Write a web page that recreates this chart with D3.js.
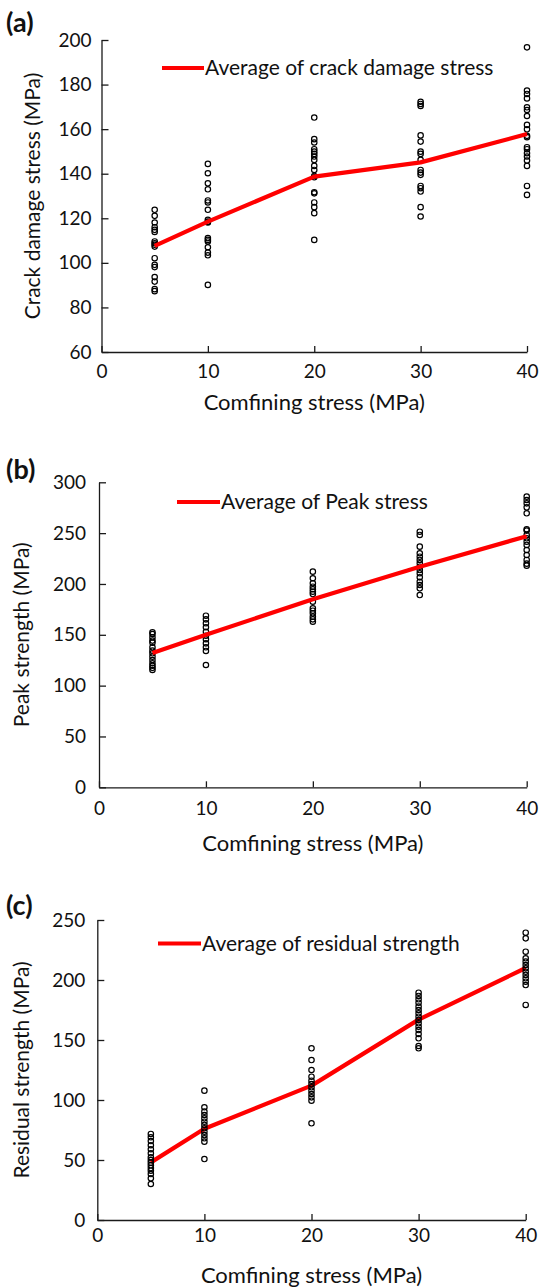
<!DOCTYPE html>
<html>
<head>
<meta charset="utf-8">
<script src="https://cdn.jsdelivr.net/npm/d3@7"></script>
<style>
  html, body { margin: 0; padding: 0; background: #fff; }
  svg { display: block; }
  text { font-family: Lato, "Open Sans", sans-serif; fill: #111; }
</style>
</head>
<body>
<svg id="chart" width="540" height="1288"></svg>
<script>
// Confining pressures of the test groups and axis ticks
const confining = [5, 10, 20, 30, 40];
const xTicks = [0, 10, 20, 30, 40];

// (a) crack damage stress, MPa: individual tests per confining level and their mean
const crackDamagePts = [
  [123.8, 121.1, 118.1, 116.0, 114.8, 113.9, 109.6, 108.8, 108.1, 107.3, 102.1, 99.1, 98.1, 93.6, 91.6, 88.2, 87.3],
  [144.4, 140.2, 135.7, 133.0, 128.0, 127.1, 123.8, 119.3, 118.5, 118.1, 111.1, 110.3, 109.6, 107.0, 104.6, 103.4, 90.1],
  [165.2, 155.5, 154.0, 151.0, 149.9, 148.9, 147.7, 146.2, 143.5, 141.7, 139.0, 138.4, 131.7, 131.2, 127.1, 125.0, 122.3, 110.3],
  [172.3, 171.3, 170.4, 157.2, 154.4, 149.9, 148.9, 146.2, 141.7, 140.5, 139.5, 134.5, 133.5, 132.0, 125.0, 120.8],
  [196.7, 177.3, 175.8, 173.8, 169.8, 168.6, 165.9, 161.9, 159.9, 157.0, 156.4, 151.9, 151.0, 149.2, 147.7, 145.9, 143.5, 134.5, 130.5]
];
const crackDamageAvg = [107.6, 118.5, 138.7, 145.1, 157.8];
const crackDamageTicks = [60, 80, 100, 120, 140, 160, 180, 200];

// (b) peak strength, MPa
const peakPts = [
  [152.5, 150.8, 147.5, 144.3, 142.3, 137.7, 134.4, 131.8, 128.5, 125.2, 122.0, 119.5, 117.5, 115.4],
  [168.8, 165.2, 161.3, 157.4, 153.0, 149.1, 145.6, 141.6, 137.7, 134.1, 120.3],
  [212.1, 205.6, 200.7, 197.3, 194.8, 192.4, 190.1, 182.6, 176.1, 173.7, 171.1, 167.8, 165.2, 162.9],
  [251.4, 248.2, 236.7, 230.2, 226.8, 223.6, 220.3, 217.0, 213.7, 210.5, 206.5, 202.2, 199.0, 195.7, 189.1],
  [285.9, 282.6, 279.3, 275.4, 269.5, 253.8, 252.5, 248.0, 244.9, 241.6, 238.4, 233.4, 228.5, 223.6, 220.0, 218.0]
];
const peakAvg = [132, 150, 185, 217, 247];
const peakTicks = [0, 50, 100, 150, 200, 250, 300];

// (c) residual strength, MPa
const residualPts = [
  [71.7, 68.9, 65.8, 62.3, 59.0, 55.6, 52.3, 50.0, 47.8, 45.6, 43.3, 41.1, 38.3, 34.7, 30.0],
  [107.8, 93.9, 90.3, 87.5, 84.7, 81.9, 79.2, 76.4, 73.6, 70.8, 68.1, 65.3, 50.8],
  [143.1, 133.3, 125.0, 119.4, 116.1, 113.3, 110.6, 107.8, 105.0, 102.2, 99.4, 80.6],
  [189.4, 186.7, 183.9, 181.1, 177.8, 175.0, 172.2, 169.4, 166.7, 163.9, 161.1, 158.3, 155.0, 151.4, 145.0, 143.1],
  [239.4, 234.7, 223.6, 218.1, 215.3, 212.5, 209.7, 206.9, 204.2, 201.4, 198.6, 195.8, 179.2]
];
const residualAvg = [48, 76, 112, 167, 210];
const residualTicks = [0, 50, 100, 150, 200, 250];

const xTitle = "Comfining stress (MPa)";

const panels = [
  { tag: "(a)", pts: crackDamagePts, avg: crackDamageAvg, yTicks: crackDamageTicks,
    yTitle: "Crack damage stress (MPa)", legend: "Average of crack damage stress",
    box: { left: 101.5, right: 527, top: 40, bottom: 352 }, tagY: 32, yTitleX: 33,
    yPad: 10, xPad: 13, xTitleDy: 58,
    legendBox: { x1: 162, x2: 204, y: 68 }, lineOnTop: true },
  { tag: "(b)", pts: peakPts, avg: peakAvg, yTicks: peakTicks,
    yTitle: "Peak strength (MPa)", legend: "Average of Peak stress",
    box: { left: 99, right: 526.7, top: 482.3, bottom: 787.3 }, tagY: 479, yTitleX: 22,
    yPad: 13, xPad: 14, xTitleDy: 64,
    legendBox: { x1: 177, x2: 220, y: 502 }, lineOnTop: true },
  { tag: "(c)", pts: residualPts, avg: residualAvg, yTicks: residualTicks,
    yTitle: "Residual strength (MPa)", legend: "Average of residual strength",
    box: { left: 97.3, right: 525.7, top: 920, bottom: 1220 }, tagY: 915, yTitleX: 22,
    yPad: 12, xPad: 9, xTitleDy: 63,
    legendBox: { x1: 158, x2: 201, y: 943.5 }, lineOnTop: false }
];

const svg = d3.select("#chart");
const TICK_FONT = 19;
const TEXT_FONT = 21;
const RED = "#ff0000";

panels.forEach(p => {
  const b = p.box;
  const x = d3.scaleLinear().domain([xTicks[0], xTicks[xTicks.length - 1]]).range([b.left, b.right]);
  const y = d3.scaleLinear().domain([p.yTicks[0], p.yTicks[p.yTicks.length - 1]]).range([b.bottom, b.top]);
  const g = svg.append("g");

  // axes with inward-pointing tick marks
  const yAxis = d3.axisLeft(y).tickValues(p.yTicks).tickSizeInner(-7).tickSizeOuter(0).tickPadding(p.yPad);
  const xAxis = d3.axisBottom(x).tickValues(xTicks).tickSizeInner(-6).tickSizeOuter(0).tickPadding(p.xPad);

  const ga = g.append("g").attr("transform", `translate(${b.left},0)`).call(yAxis);
  const gb = g.append("g").attr("transform", `translate(0,${b.bottom})`).call(xAxis);
  [ga, gb].forEach(ax => {
    ax.select(".domain").attr("stroke", "#1a1a1a").attr("stroke-width", 1.3);
    ax.selectAll(".tick line").attr("stroke", "#1a1a1a").attr("stroke-width", 1.3);
    ax.selectAll(".tick text").attr("font-size", TICK_FONT).attr("font-family", "Lato, sans-serif").attr("fill", "#111");
  });

  // axis titles
  g.append("text")
    .attr("x", (b.left + b.right) / 2).attr("y", b.bottom + p.xTitleDy)
    .attr("text-anchor", "middle").attr("font-size", 22).text(xTitle);
  g.append("text")
    .attr("transform", `translate(${p.yTitleX},${(b.top + b.bottom) / 2}) rotate(-90)`)
    .attr("text-anchor", "middle").attr("dy", "0.35em").attr("font-size", TEXT_FONT).text(p.yTitle);

  // panel tag
  g.append("text").attr("x", 6).attr("y", p.tagY)
    .attr("font-size", 27).attr("font-weight", "bold").text(p.tag);

  // scatter of individual tests
  const flat = [];
  p.pts.forEach((col, i) => col.forEach(v => flat.push({ c: confining[i], v })));
  const avgLine = d3.line().x((d, i) => x(confining[i])).y(d => y(d));

  const drawLine = () => g.append("path").datum(p.avg)
    .attr("d", avgLine).attr("fill", "none").attr("stroke", RED)
    .attr("stroke-width", 4.2).attr("stroke-linejoin", "round");
  const drawDots = () => g.append("g").selectAll("circle").data(flat).join("circle")
    .attr("cx", d => x(d.c)).attr("cy", d => y(d.v)).attr("r", 2.7)
    .attr("fill", "none").attr("stroke", "#000").attr("stroke-width", 1.2);

  if (p.lineOnTop) { drawDots(); drawLine(); } else { drawLine(); drawDots(); }

  // legend
  const L = p.legendBox;
  g.append("line").attr("x1", L.x1).attr("x2", L.x2).attr("y1", L.y).attr("y2", L.y)
    .attr("stroke", RED).attr("stroke-width", 4.2);
  g.append("text").attr("x", L.x2 + 1).attr("y", L.y).attr("dy", "0.35em")
    .attr("font-size", TEXT_FONT).text(p.legend);
});
</script>
</body>
</html>
